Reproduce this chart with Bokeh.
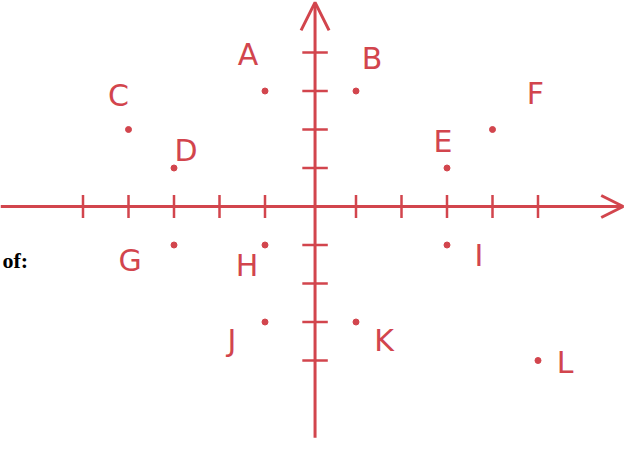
from bokeh.plotting import figure
from bokeh.models import ColumnDataSource, Arrow, OpenHead, Range1d
from bokeh.core.properties import value
from bokeh.embed import file_html
from bokeh.resources import INLINE

# data
labels = ["A", "B", "C", "D", "E", "F", "G", "H", "I", "J", "K", "L"]
xs = [-1, 1, -4, -3, 3, 4, -3, -1, 3, -1, 1, 5]
ys = [3, 3, 2, 1, 1, 2, -1, -1, -1, -3, -3, -4]
x_ticks = [-5, -4, -3, -2, -1, 1, 2, 3, 4, 5]
y_ticks = [-4, -3, -2, -1, 1, 2, 3, 4]

# label offsets in screen pixels (layout only)
lab_dx = [-17, 16, -10, 12, -4, 43, -44, -18, 32, -33, 28, 27]
lab_dy = [-37, -33, -34, -18, -27, -36, 15, 20, 10, 18, 18, 2]

RED = "#d2454d"
W, H = 625, 438
ux, uy = 45.5, 38.5
ox, oy = 310.0, 206.0  # origin in figure pixels

xr0, xr1 = -ox / ux, (W - ox) / ux
yr0, yr1 = -(H - oy) / uy, oy / uy

p = figure(width=W, height=H, output_backend="svg", toolbar_location=None,
           x_range=Range1d(xr0, xr1), y_range=Range1d(yr0, yr1),
           min_border=0, outline_line_color=None)
p.axis.visible = False
p.grid.visible = False
p.background_fill_color = "white"
p.border_fill_color = "white"

# axes with arrows
p.add_layout(Arrow(end=OpenHead(size=22, line_color=RED, line_width=3),
                   x_start=xr0, y_start=0, x_end=xr1 - 0.05, y_end=0,
                   line_color=RED, line_width=3))
p.add_layout(Arrow(end=OpenHead(size=28, line_color=RED, line_width=3),
                   x_start=0.1, y_start=yr0 + 0.02, x_end=0.1, y_end=yr1 - 0.05,
                   line_color=RED, line_width=3))

# ticks
tx = ColumnDataSource(dict(x=x_ticks, y0=[-0.3] * len(x_ticks), y1=[0.3] * len(x_ticks)))
p.segment(x0="x", y0="y0", x1="x", y1="y1", source=tx, line_color=RED, line_width=2.5)
ty = ColumnDataSource(dict(y=y_ticks, x0=[-0.18] * len(y_ticks), x1=[0.38] * len(y_ticks)))
p.segment(x0="x0", y0="y", x1="x1", y1="y", source=ty, line_color=RED, line_width=2.5)

# points and labels
src = ColumnDataSource(dict(x=xs, y=ys, t=labels, dx=lab_dx, dy=lab_dy))
p.scatter("x", "y", source=src, size=6, color=RED)
p.text("x", "y", text="t", source=src, x_offset="dx", y_offset="dy",
       text_color=RED, text_font=value("DejaVu Sans"), text_font_size="30px",
       text_align="center", text_baseline="middle")

# stray text at the left edge
p.text(x=[xr0 + 2 / ux], y=[-1.4], text=["of:"], text_color="black",
       text_font=value("Liberation Serif"), text_font_style="bold",
       text_font_size="22px", text_align="left", text_baseline="middle")

open("out.html", "w").write(file_html(p, INLINE))
